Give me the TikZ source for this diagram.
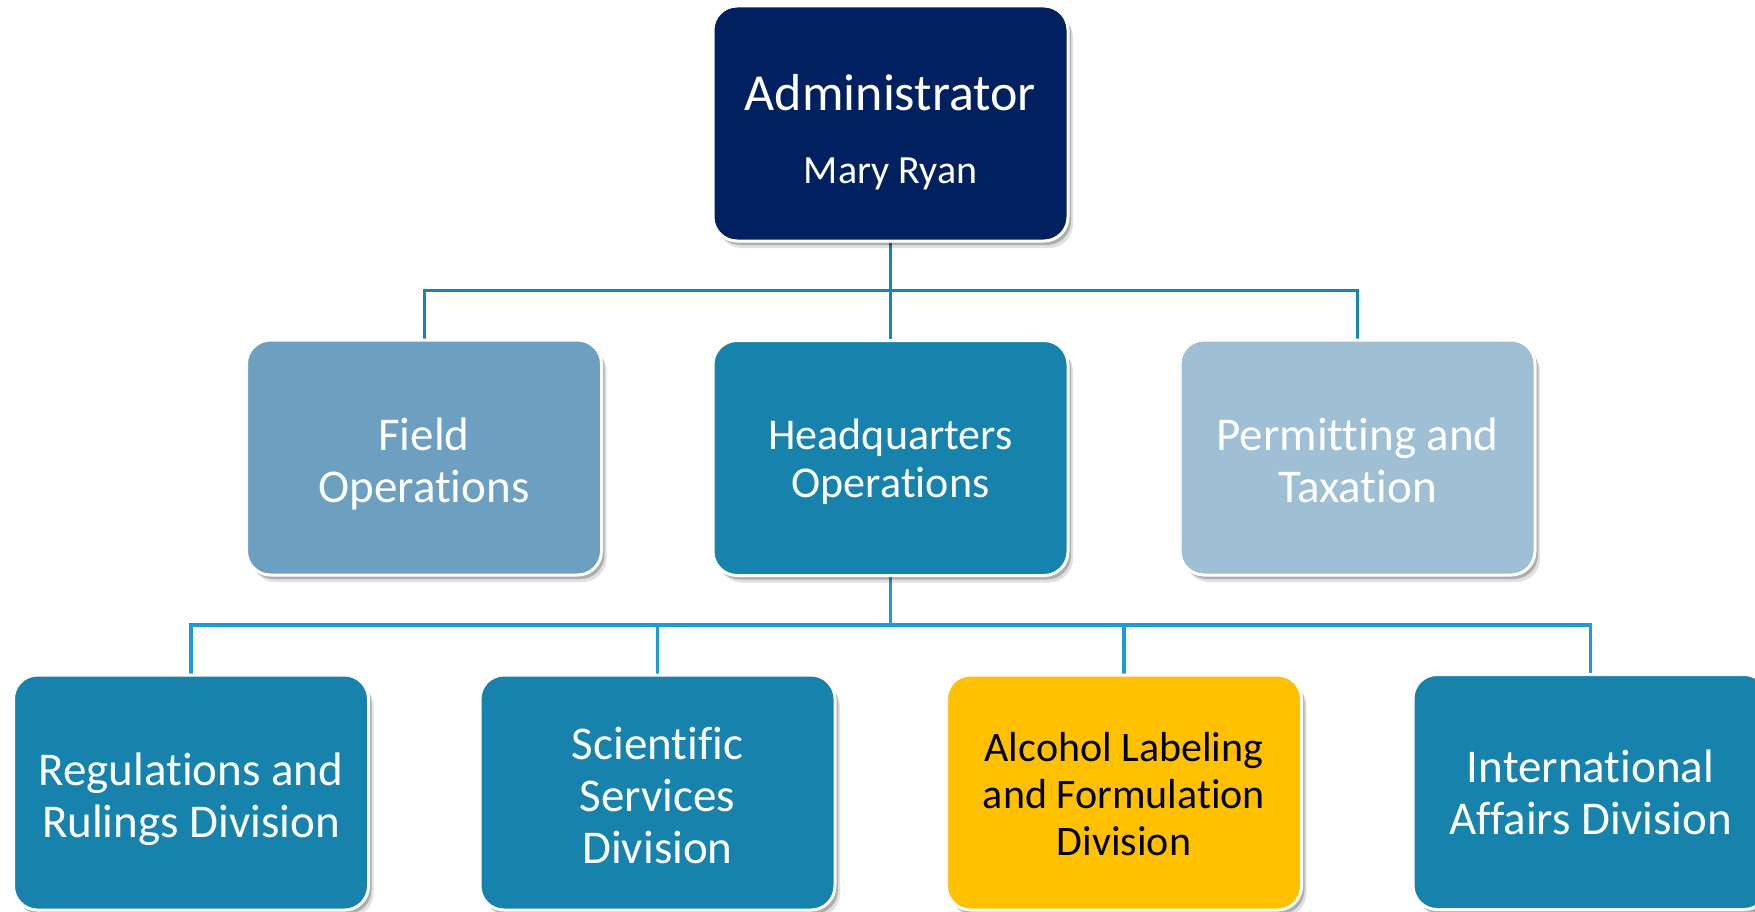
\documentclass[tikz,border=0pt]{standalone}
\usepackage{fontspec}
\setmainfont{Carlito}[Ligatures={NoCommon}, Contextuals={NoAlternate}]
\usetikzlibrary{shadows}
\definecolor{adminnavy}{HTML}{002060}
\definecolor{hqblue}{HTML}{1783AD}
\definecolor{fieldblue}{HTML}{6C9FC0}
\definecolor{permblue}{HTML}{9EBFD4}
\definecolor{alcgold}{HTML}{FFC000}
\definecolor{lineA}{HTML}{1585B5}
\definecolor{lineB}{HTML}{1E9BD7}
\pgfdeclarelayer{bg}
\pgfsetlayers{bg,main}
\newcommand{\toplift}[1]{\rule{0pt}{#1}}
\tikzset{
  orgbox/.style={rectangle, rounded corners=24pt, draw=white, line width=3pt,
    minimum width=355pt, minimum height=235pt, inner sep=0pt, align=center,
    text=white, text depth=0pt,
    general shadow={shadow xshift=5pt, shadow yshift=-7pt, opacity=0.12, fill=black},
    general shadow={shadow xshift=3pt, shadow yshift=-4pt, opacity=0.22, fill=black}},
  t47/.style={font=\fontsize{47}{52}\selectfont},
  connA/.style={draw=lineA, line width=3pt},
  connB/.style={draw=lineB, line width=3.5pt},
}
\begin{document}
\begin{tikzpicture}[x=1pt,y=-1pt]
\useasboundingbox (0,0) rectangle (1755,912);
\node[orgbox, fill=adminnavy, font=\fontsize{52}{62}\selectfont] (admin) at (890.5,123.5)
  {\toplift{47pt}Administrator\\[11pt]{\fontsize{40}{48}\selectfont Mary Ryan}};
\node[orgbox, fill=fieldblue, t47] (field) at (424,457.5) {\toplift{0.79em}Field\\Operations};
\node[orgbox, fill=hqblue, font=\fontsize{44}{48.5}\selectfont] (hq) at (890.5,458) {Headquarters\\Operations};
\node[orgbox, fill=permblue, t47] (perm) at (1357.5,457.5) {\toplift{0.79em}Permitting and\\Taxation};
\node[orgbox, fill=hqblue, t47] (reg) at (191,792.5) {\toplift{0.79em}Regulations and\\Rulings Division};
\node[orgbox, fill=hqblue, t47] (sci) at (657.5,792.5) {\toplift{0.79em}Scientific\\Services\\Division};
\node[orgbox, fill=alcgold, text=black, font=\fontsize{42}{46.7}\selectfont] (alc) at (1124,792.5) {\toplift{0.77em}Alcohol Labeling\\and Formulation\\Division};
\node[orgbox, fill=hqblue, t47] (intl) at (1590.5,792) {International\\Affairs Division};
\begin{pgfonlayer}{bg}
  \fill[white] (0,0) rectangle (1755,912);
  \coordinate (j1) at (890.5,290);
  \coordinate (j2) at (890.5,625);
  \draw[connA] (admin.south) -- (j1);
  \draw[connA] (field.north) |- (j1) -| (perm.north);
  \draw[connA] (j1) -- (hq.north);
  \draw[connB] (hq.south) -- (j2);
  \draw[connB] (reg.north) |- (j2) -| (intl.north);
  \draw[connB] (sci.north) -- (sci.north |- j2);
  \draw[connB] (alc.north) -- (alc.north |- j2);
\end{pgfonlayer}
\end{tikzpicture}
\end{document}
